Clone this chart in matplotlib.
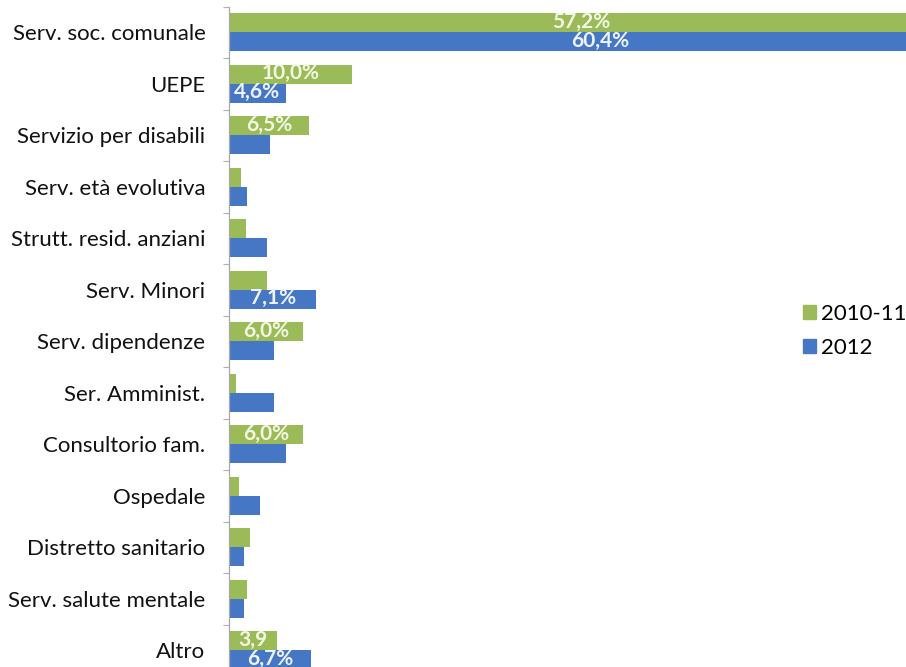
import matplotlib

matplotlib.use("Agg")

import matplotlib.pyplot as plt
import numpy as np
from matplotlib.patches import Patch

categories = [
    "Serv. soc. comunale",
    "UEPE",
    "Servizio per disabili",
    "Serv. età evolutiva",
    "Strutt. resid. anziani",
    "Serv. Minori",
    "Serv. dipendenze",
    "Ser. Amminist.",
    "Consultorio fam.",
    "Ospedale",
    "Distretto sanitario",
    "Serv. salute mentale",
    "Altro",
]
values_2010_11 = [57.2, 10.0, 6.5, 0.95, 1.4, 3.1, 6.0, 0.6, 6.0, 0.85, 1.7, 1.5, 3.9]
values_2012 = [60.4, 4.6, 3.3, 1.5, 3.1, 7.1, 3.65, 3.65, 4.6, 2.5, 1.2, 1.2, 6.7]
labels_2010_11 = ["57,2%", "10,0%", "6,5%", "", "", "", "6,0%", "", "6,0%", "", "", "", "3,9"]
labels_2012 = ["60,4%", "4,6%", "", "", "", "7,1%", "", "", "", "", "", "", "6,7%"]
series_names = ["2010-11", "2012"]

GREEN = "#9BBB59"
BLUE = "#4677C4"
FONT = "Lato"

plt.rcParams["font.family"] = [FONT, "DejaVu Sans"]

fig = plt.figure(figsize=(9.06, 6.67), dpi=100)
# plot area runs past the right and bottom edges, as in the cropped original
top_px, bottom_px = 6.5, 676.0
ax = fig.add_axes([229 / 906, 1 - bottom_px / 667, 677 / 906, (bottom_px - top_px) / 667])

pos = np.arange(len(categories))
h = 0.365
bars_a = ax.barh(pos - h / 2, values_2010_11, height=h, color=GREEN)
bars_b = ax.barh(pos + h / 2, values_2012, height=h, color=BLUE)

for bars, labels, tc in (
    (bars_a, labels_2010_11, "#F3F7E2"),
    (bars_b, labels_2012, "#EEF3FB"),
):
    for bar, text in zip(bars, labels):
        if not text:
            continue
        ax.text(
            bar.get_x() + bar.get_width() / 2,
            bar.get_y() + bar.get_height() / 2 - 0.02,
            text,
            ha="center",
            va="center",
            color=tc,
            fontsize=15,
            fontweight="bold",
        )

ax.set_xlim(0, 677 / 12.3)
ax.set_ylim(len(categories) - 0.5, -0.5)
ax.set_xticks([])
ax.set_yticks(pos, categories, fontsize=16, color="#111111")
ax.set_yticks(np.arange(len(categories) + 1) - 0.5, minor=True)
ax.tick_params(axis="y", which="major", length=0, pad=17)
ax.tick_params(axis="y", which="minor", length=4, color="#B0B0B0", width=0.8)
for side in ("top", "right", "bottom"):
    ax.spines[side].set_visible(False)
ax.spines["left"].set_color("#A8A8A8")
ax.spines["left"].set_linewidth(0.9)

handles = [Patch(color=GREEN), Patch(color=BLUE)]
fig.legend(
    handles,
    series_names,
    loc="center left",
    bbox_to_anchor=(0.886, 0.504),
    frameon=False,
    fontsize=16,
    handlelength=0.62,
    handleheight=0.62,
    handletextpad=0.2,
    labelspacing=0.65,
    borderaxespad=0,
    borderpad=0,
)

fig.savefig("out.png", dpi=100)
plt.close(fig)
